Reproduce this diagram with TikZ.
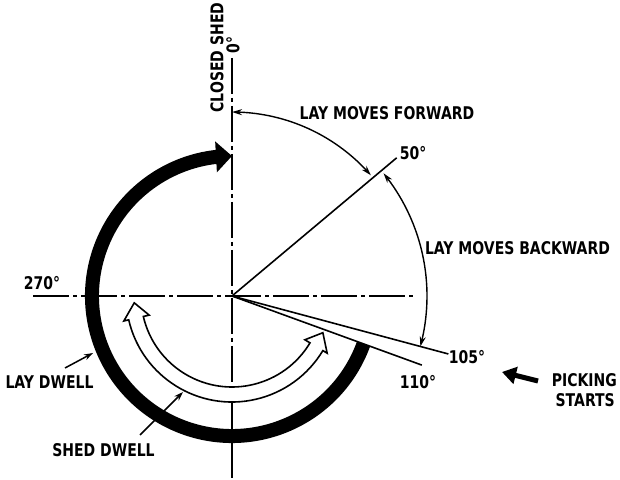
\documentclass[tikz,border=0pt]{standalone}
\usepackage{fontspec}
\usepackage{graphicx}
\setmainfont{DejaVu Sans}
\usetikzlibrary{arrows.meta,calc,bending}
\newcommand\talltext[1]{\scalebox{1}[1.25]{#1}}
\begin{document}
\begin{tikzpicture}[x=1pt,y=1pt,
  lbl/.style={font=\fontsize{14}{16}\selectfont\bfseries, inner sep=0pt},
  thinline/.style={line width=1.6pt},
  centerline/.style={line width=1.5pt, dash pattern=on 36pt off 4pt on 4pt off 4pt},
  dimarrow/.style={line width=1.4pt, {Stealth[length=10pt,width=6pt,flex]}-{Stealth[length=10pt,width=6pt,flex]}},
  leader/.style={line width=1.5pt, -{Stealth[length=9pt,width=6pt]}},
  dwell/.style={line width=14pt, -{Triangle[length=16pt,width=30pt,flex]}},
  hollow/.style={line width=1.6pt, fill=white, line join=miter}
]
\useasboundingbox (0,0) rectangle (620,479);
\coordinate (O) at (232,183);
% centre lines
\coordinate (hl) at (33,183);
\coordinate (hr) at (415,183);
\coordinate (vt) at (232,421);
\coordinate (vb) at (232,0);
\draw[centerline] (hl) -- (hr);
\draw[centerline] (vt) -- (vb);
% radial lines
\coordinate (p50) at ($(O)+(40:215)$);
\coordinate (p105) at ($(O)+(-15:224)$);
\coordinate (p110) at ($(O)+(-20:202)$);
\draw[thinline] (O) -- (p50);
\draw[thinline] (O) -- (p105);
\draw[thinline] (O) -- (p110);
% lay motion arcs
\coordinate (f1) at ($(O)+(90:184)$);
\coordinate (b1) at ($(O)+(39:195)$);
\draw[dimarrow] (f1) arc[start angle=90, end angle=41, radius=184];
\draw[dimarrow] (b1) arc[start angle=39, end angle=-15, radius=195];
% lay dwell thick arrow
\coordinate (d1) at ($(O)+(-20:140)$);
\draw[dwell] (d1) arc[start angle=-20, end angle=-270, radius=140];
% shed dwell hollow double arrow
\draw[hollow] ($(O)+(184:98)$) -- ($(O)+(193:111)$) -- ($(O)+(193:106)$)
  arc[start angle=193, end angle=329, radius=106]
  -- ($(O)+(329:111)$) -- ($(O)+(338:98)$) -- ($(O)+(329:85)$) -- ($(O)+(329:91)$)
  arc[start angle=329, end angle=193, radius=91]
  -- ($(O)+(193:85)$) -- cycle;
% leaders
\coordinate (ld1) at (65,111);
\coordinate (ld2) at (93,126);
\draw[leader] (ld1) -- (ld2);
\coordinate (sd1) at (140,44);
\coordinate (sd2) at (183,87);
\draw[leader] (sd1) -- (sd2);
% picking arrow
\coordinate (pa1) at (538,98);
\coordinate (pa2) at (502,107);
\draw[line width=5pt, -{Triangle[length=14pt,width=17pt]}] (pa1) -- (pa2);
% labels
\node[lbl, rotate=90] (zero) at (233,434) {\talltext{0°}};
\node[lbl, rotate=90] (closed) at (217,421.5) {\talltext{CLOSED SHED}};
\node[lbl] (fwd) at (387,366) {\talltext{LAY MOVES FORWARD}};
\node[lbl] (fifty) at (413,326) {\talltext{50°}};
\node[lbl] (bwd) at (517.5,231) {\talltext{LAY MOVES BACKWARD}};
\node[lbl] (t270) at (42,196) {\talltext{270°}};
\node[lbl] (t105) at (467,122) {\talltext{105°}};
\node[lbl] (t110) at (418,97) {\talltext{110°}};
\node[lbl, anchor=east] (pick) at (617,99) {\talltext{PICKING}};
\node[lbl, anchor=east] (starts) at (615,79) {\talltext{STARTS}};
\node[lbl] (laydw) at (49.5,97) {\talltext{LAY DWELL}};
\node[lbl] (sheddw) at (103.5,29) {\talltext{SHED DWELL}};
\end{tikzpicture}
\end{document}
